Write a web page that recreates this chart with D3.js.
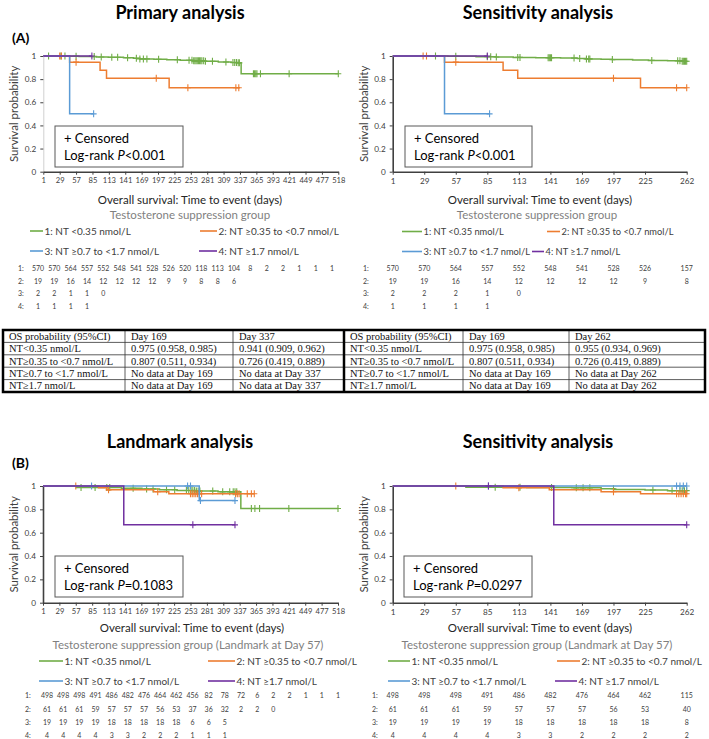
<!DOCTYPE html>
<html><head><meta charset="utf-8">
<script src="https://cdn.jsdelivr.net/npm/d3@7"></script>
<style>
body{margin:0;background:#fff}
svg{display:block}
text{font-family:Lato,'Open Sans',sans-serif}
text.serif{font-family:"Liberation Serif","Times New Roman",serif}
</style>
</head><body>
<svg id="c" width="709" height="739"></svg>
<script>
// ---------------- DATA ----------------
const groupLabels = ["1: NT <0.35 nmol/L","2: NT \u22650.35 to <0.7 nmol/L","3: NT \u22650.7 to <1.7 nmol/L","4: NT \u22651.7 nmol/L"];
const yTicks = [0,0.2,0.4,0.6,0.8,1];
const ticksLong = [1,29,57,85,113,141,169,197,225,253,281,309,337,365,393,421,449,477,518];
const ticksShort = [1,29,57,85,113,141,169,197,225,262];

// Panel A1: Primary analysis  (steps: [day, survival])
const A1_g1 = [[1,1],[45,0.998],[62,0.995],[92,0.992],[112,0.989],[138,0.985],[155,0.98],[166,0.975],[190,0.972],[212,0.968],[235,0.963],[256,0.958],[278,0.954],[300,0.948],[322,0.944],[334,0.941],[339,0.846],[518,0.846]];
const A1_g1c = [10,31,38,57,88,100,118,128,145,160,166,172,178,198,230,250,255,258,260,262,264,266,268,270,272,275,278,290,313,325,328,331,334,336,360,362,364,366,372,421,518];
const A1_g2 = [[1,1],[46,0.947],[98,0.876],[109,0.807],[216,0.726],[337,0.726]];
const A1_g2c = [29,32,57,194,248,330,335];
const A1_g3 = [[1,1],[46,0.5],[87,0.5]];
const A1_g3c = [87];
const A1_g4 = [[1,1],[84,1]];
const A1_g4c = [84];
const A1_risk1 = [570,570,564,557,552,548,541,528,526,520,118,113,104,8,2,2,1,1,1];
const A1_risk2 = [19,19,16,14,12,12,12,12,9,9,8,8,6];
const A1_risk3 = [2,2,1,1,0];
const A1_risk4 = [1,1,1,1];

// Panel A2: Sensitivity analysis
const A2_g1 = [[1,1],[50,0.997],[75,0.994],[92,0.991],[108,0.988],[128,0.985],[150,0.982],[165,0.978],[172,0.975],[186,0.972],[196,0.969],[214,0.966],[228,0.962],[245,0.958],[258,0.955],[262,0.955]];
const A2_g1c = [39,57,85,88,93,112,114,139,140,141,142,162,167,173,175,176,196,231,254,256,258,259,260,261,262];
const A2_g2 = [[1,1],[47,0.947],[99,0.876],[112,0.807],[221,0.726],[262,0.726]];
const A2_g2c = [28,31,57,197,253,262];
const A2_g3 = [[1,1],[47,0.5],[87,0.5]];
const A2_g3c = [87];
const A2_g4 = [[1,1],[85,1]];
const A2_g4c = [85];
const A2_risk1 = [570,570,564,557,552,548,541,528,526,157];
const A2_risk2 = [19,19,16,14,12,12,12,12,9,8];
const A2_risk3 = [2,2,2,1,0];
const A2_risk4 = [1,1,1,1];

// Panel B1: Landmark analysis
const B1_g1 = [[1,1],[58,0.988],[135,0.98],[170,0.975],[200,0.968],[230,0.962],[262,0.957],[300,0.95],[339,0.807],[518,0.807]];
const B1_g1c = [66,90,110,115,155,178,189,212,226,246,250,254,257,260,263,266,269,291,308,320,326,329,332,357,363,371,421,518];
const B1_g2 = [[1,1],[96,0.984],[110,0.967],[190,0.951],[216,0.934],[362,0.934]];
const B1_g2c = [57,113,197,253,256,259,262,265,268,272,330,333,336,350,357,362];
const B1_g3 = [[1,1],[268,0.875],[329,0.875]];
const B1_g3c = [84,248,253,270,329];
const B1_g4 = [[1,1],[139,0.667],[329,0.667]];
const B1_g4c = [257,329];
const B1_risk1 = [498,498,498,491,486,482,476,464,462,456,82,78,72,6,2,2,1,1,1];
const B1_risk2 = [61,61,61,59,57,57,57,56,53,37,36,32,2,2,0];
const B1_risk3 = [19,19,19,19,18,18,18,18,18,6,6,5];
const B1_risk4 = [4,4,4,4,3,3,2,2,2,1,1,1];

// Panel B2: Sensitivity analysis (landmark)
const B2_g1 = [[1,1],[66,0.99],[120,0.987],[160,0.984],[186,0.976],[198,0.971],[225,0.966],[245,0.96],[262,0.96]];
const B2_g1c = [92,114,142,164,170,176,197,232,249,256,258,260,262];
const B2_g2 = [[1,1],[99,0.984],[140,0.967],[186,0.951],[221,0.934],[262,0.934]];
const B2_g2c = [57,113,197,253,255,257,259,261,262];
const B2_g3 = [[1,1],[262,1]];
const B2_g3c = [86,253,256,259,262];
const B2_g4 = [[1,1],[144,0.667],[262,0.667]];
const B2_g4c = [86,262];
const B2_risk1 = [498,498,498,491,486,482,476,464,462,115];
const B2_risk2 = [61,61,61,59,57,57,57,56,53,40];
const B2_risk3 = [19,19,19,19,18,18,18,18,18,8];
const B2_risk4 = [4,4,4,4,3,3,2,2,2,2];

// Table
const tabHeadL = ["OS probability (95%CI)","Day 169","Day 337"];
const tabHeadR = ["OS probability (95%CI)","Day 169","Day 262"];
const tabRowLabels = ["NT<0.35 nmol/L","NT\u22650.35 to <0.7 nmol/L","NT\u22650.7 to <1.7 nmol/L","NT\u22651.7 nmol/L"];
const tabValsL = [["0.975 (0.958, 0.985)","0.941 (0.909, 0.962)"],["0.807 (0.511, 0.934)","0.726 (0.419, 0.889)"],["No data at Day 169","No data at Day 337"],["No data at Day 169","No data at Day 337"]];
const tabValsR = [["0.975 (0.958, 0.985)","0.955 (0.934, 0.969)"],["0.807 (0.511, 0.934)","0.726 (0.419, 0.889)"],["No data at Day 169","No data at Day 262"],["No data at Day 169","No data at Day 262"]];

// ---------------- DRAW ----------------
const svg = d3.select('#c');
const COL = ['#70AD47','#ED7D31','#5B9BD5','#7030A0'];
const AX = '#404040';

function survAt(steps,t){ let s=1; for(const [tt,ss] of steps){ if(tt<=t) s=ss; else break; } return s; }

function longScale(x0,x1){ const s=(x1-x0)/18; return d3.scaleLinear().domain([1,477,518]).range([x0,x0+17*s,x1]); }
function shortScale(x0,x1){ return d3.scaleLinear().domain([1,262]).range([x0,x1]); }

function drawPanel(p){
  const g = svg.append('g');
  const x = p.x, y = d3.scaleLinear().domain([0,1]).range([p.yb,p.yt]);
  const x0 = x.range()[0];
  g.append('text').attr('x',p.titleX).attr('y',p.titleY).attr('text-anchor','middle')
    .attr('font-size',18).attr('font-weight','bold').attr('fill','#000').text(p.title);
  if(p.letter) g.append('text').attr('x',12).attr('y',p.letterY).attr('font-size',14).attr('font-weight','bold').attr('fill','#000').text(p.letter);
  const ya = g.append('g').attr('transform',`translate(${x0},0)`)
    .call(d3.axisLeft(y).tickValues(yTicks).tickFormat(d=>String(d)).tickSize(3).tickSizeOuter(0).tickPadding(4));
  ya.select('.domain').attr('stroke',p.yAxisColor).attr('stroke-width',p.yAxisW);
  ya.selectAll('.tick line').attr('stroke',AX);
  ya.selectAll('.tick text').attr('font-size',8.2).attr('fill',AX).attr('font-family','Lato');
  const xa = g.append('g').attr('transform',`translate(0,${p.yb})`)
    .call(d3.axisBottom(x).tickValues(p.ticks).tickFormat(d=>String(d)).tickSize(3).tickSizeOuter(0).tickPadding(3));
  xa.select('.domain').attr('stroke',AX).attr('stroke-width',1.4);
  xa.selectAll('.tick line').attr('stroke',AX);
  xa.selectAll('.tick text').attr('font-size',p.xtickFont).attr('fill',AX).attr('font-family','Lato');
  g.append('text').attr('transform',`translate(${p.ylabX},${(p.yt+p.yb)/2}) rotate(-90)`)
    .attr('text-anchor','middle').attr('font-size',11.5).attr('fill',AX).attr('dy','0.35em').text('Survival probability');
  const bx = g.append('g');
  bx.append('rect').attr('x',p.box[0]).attr('y',p.box[1]).attr('width',p.box[2]).attr('height',p.box[3])
    .attr('fill','#fff').attr('stroke','#595959').attr('stroke-width',1);
  bx.append('text').attr('x',p.box[0]+9).attr('y',p.box[1]+17).attr('font-size',13).attr('fill','#000').text('+ Censored');
  const lr = bx.append('text').attr('x',p.box[0]+9).attr('y',p.box[1]+33.5).attr('font-size',13).attr('fill','#000');
  lr.append('tspan').text('Log-rank ');
  lr.append('tspan').attr('font-style','italic').text('P');
  lr.append('tspan').text(p.pval);
  const line = d3.line().x(d=>x(d[0])).y(d=>y(d[1])).curve(d3.curveStepAfter);
  p.curves.forEach((c,i)=>{
    g.append('path').attr('d',line(c.steps)).attr('fill','none').attr('stroke',COL[i]).attr('stroke-width',1.5);
    const cg = g.append('g').attr('stroke',COL[i]).attr('stroke-width',1.1);
    c.cens.forEach(t=>{
      const cx = x(t), cy = y(survAt(c.steps,t));
      cg.append('path').attr('d',`M${cx},${cy-3.5}V${cy+3.5}M${cx-3},${cy}H${cx+3}`);
    });
  });
  g.append('text').attr('x',p.xtX).attr('y',p.xtY).attr('text-anchor','middle').attr('font-size',11.5).attr('fill','#262626')
    .text('Overall survival: Time to event  (days)');
  g.append('text').attr('x',p.gtX).attr('y',p.gtY).attr('text-anchor','middle').attr('font-size',11.5).attr('fill','#7f7f7f')
    .text(p.groupTitle);
  p.legend.forEach((L,i)=>{
    g.append('line').attr('x1',L[0]).attr('x2',L[1]).attr('y1',L[2]).attr('y2',L[2]).attr('stroke',COL[i]).attr('stroke-width',1.6);
    g.append('text').attr('x',L[1]+1.5).attr('y',L[2]).attr('dy','0.35em').attr('font-size',p.legFont).attr('fill',AX).text(groupLabels[i]);
  });
  p.risk.forEach((row,i)=>{
    const ry = p.riskY[i];
    g.append('text').attr('x',p.riskLabX).attr('y',ry).attr('dy','0.35em').attr('font-size',7).attr('fill',AX).text((i+1)+':');
    row.forEach((v,j)=>{
      g.append('text').attr('x',p.riskPos(j)).attr('y',ry).attr('dy','0.35em').attr('text-anchor','middle')
        .attr('font-size',7).attr('fill',AX).text(v);
    });
  });
}

// Panel A1
const xA1 = longScale(43.3,338.3);
const pA1 = d3.scalePoint().domain(d3.range(19)).range([38,332]);
drawPanel({title:'Primary analysis',titleX:180,titleY:19,letter:'(A)',letterY:43,
  x:xA1,yt:56,yb:171.7,ticks:ticksLong,xtickFont:7.6,yAxisColor:'#d0d0d0',yAxisW:1,ylabX:14,
  box:[55,126,128,41],pval:'<0.001',
  curves:[{steps:A1_g1,cens:A1_g1c},{steps:A1_g2,cens:A1_g2c},{steps:A1_g3,cens:A1_g3c},{steps:A1_g4,cens:A1_g4c}],
  xtX:190,xtY:204,gtX:190,gtY:219,groupTitle:'Testosterone suppression group',
  legend:[[30,43,231],[200,217,231],[30,43,251],[199,217,251]],legFont:10,
  risk:[A1_risk1,A1_risk2,A1_risk3,A1_risk4],riskY:[269,281.5,294,307],riskLabX:18,riskPos:j=>pA1(j)});

// Panel A2
const xA2 = shortScale(392.7,686.7);
drawPanel({title:'Sensitivity analysis',titleX:538,titleY:19,
  x:xA2,yt:56,yb:171.7,ticks:ticksShort,xtickFont:8.2,yAxisColor:AX,yAxisW:1.6,ylabX:364,
  box:[405,126,127,41],pval:'<0.001',
  curves:[{steps:A2_g1,cens:A2_g1c},{steps:A2_g2,cens:A2_g2c},{steps:A2_g3,cens:A2_g3c},{steps:A2_g4,cens:A2_g4c}],
  xtX:540,xtY:204,gtX:537,gtY:219,groupTitle:'Testosterone suppression group',
  legend:[[402,422,231.5],[547,560,231.5],[402,422,251.5],[532,544,251.5]],legFont:9.3,
  risk:[A2_risk1,A2_risk2,A2_risk3,A2_risk4],riskY:[269,281.5,294,307],riskLabX:363,riskPos:j=>xA2(ticksShort[j])});

// Panel B1
const xB1 = longScale(43,338);
const pB1 = d3.scalePoint().domain(d3.range(19)).range([47,338]);
drawPanel({title:'Landmark analysis',titleX:180,titleY:448,letter:'(B)',letterY:468,
  x:xB1,yt:486,yb:602.7,ticks:ticksLong,xtickFont:7.6,yAxisColor:AX,yAxisW:1.6,ylabX:14,
  box:[55,556,128,41],pval:'=0.1083',
  curves:[{steps:B1_g1,cens:B1_g1c},{steps:B1_g2,cens:B1_g2c},{steps:B1_g3,cens:B1_g3c},{steps:B1_g4,cens:B1_g4c}],
  xtX:192,xtY:632,gtX:188,gtY:649,groupTitle:'Testosterone suppression group (Landmark at Day 57)',
  legend:[[39,63,661],[208,235,661],[39,63,681],[208,235,681]],legFont:10,
  risk:[B1_risk1,B1_risk2,B1_risk3,B1_risk4],riskY:[696,709.5,722.7,736],riskLabX:25,riskPos:j=>pB1(j)});

// Panel B2
const xB2 = shortScale(392.7,686.7);
drawPanel({title:'Sensitivity analysis',titleX:538,titleY:448,
  x:xB2,yt:486,yb:602.7,ticks:ticksShort,xtickFont:8.2,yAxisColor:AX,yAxisW:1.6,ylabX:364,
  box:[404,556,128,41],pval:'=0.0297',
  curves:[{steps:B2_g1,cens:B2_g1c},{steps:B2_g2,cens:B2_g2c},{steps:B2_g3,cens:B2_g3c},{steps:B2_g4,cens:B2_g4c}],
  xtX:540,xtY:632,gtX:537,gtY:649,groupTitle:'Testosterone suppression group (Landmark at Day 57)',
  legend:[[388,410,661],[557,580,661],[388,410,681],[555,577,681]],legFont:10,
  risk:[B2_risk1,B2_risk2,B2_risk3,B2_risk4],riskY:[696,709.5,722.7,736],riskLabX:372,riskPos:j=>xB2(ticksShort[j])});

// ---------------- TABLE ----------------
(function(){
  const tg = svg.append('g');
  const top=330, rh=12.4, nrows=5;
  const colsL=[3,125,233,344], colsR=[344,463,569,705];
  const bottom = top + rh*nrows;
  function half(cols, head, vals){
    for(let r=1;r<nrows;r++){
      tg.append('line').attr('x1',cols[0]).attr('x2',cols[3]).attr('y1',top+r*rh).attr('y2',top+r*rh).attr('stroke','#333').attr('stroke-width',0.8);
    }
    [1,2].forEach(c=>tg.append('line').attr('x1',cols[c]).attr('x2',cols[c]).attr('y1',top).attr('y2',bottom).attr('stroke','#333').attr('stroke-width',0.8));
    const rows=[head].concat(tabRowLabels.map((l,i)=>[l,vals[i][0],vals[i][1]]));
    rows.forEach((row,r)=>row.forEach((t,c)=>{
      tg.append('text').attr('class','serif').attr('x',cols[c]+6).attr('y',top+r*rh+rh/2).attr('dy','0.35em')
        .attr('font-size',10.5).attr('fill','#111').text(t);
    }));
  }
  half(colsL, tabHeadL, tabValsL);
  half(colsR, tabHeadR, tabValsR);
  tg.append('rect').attr('x',3).attr('y',top).attr('width',702).attr('height',bottom-top).attr('fill','none').attr('stroke','#000').attr('stroke-width',2.5);
  tg.append('line').attr('x1',344).attr('x2',344).attr('y1',top).attr('y2',bottom).attr('stroke','#000').attr('stroke-width',2.5);
})();
</script>
</body></html>
